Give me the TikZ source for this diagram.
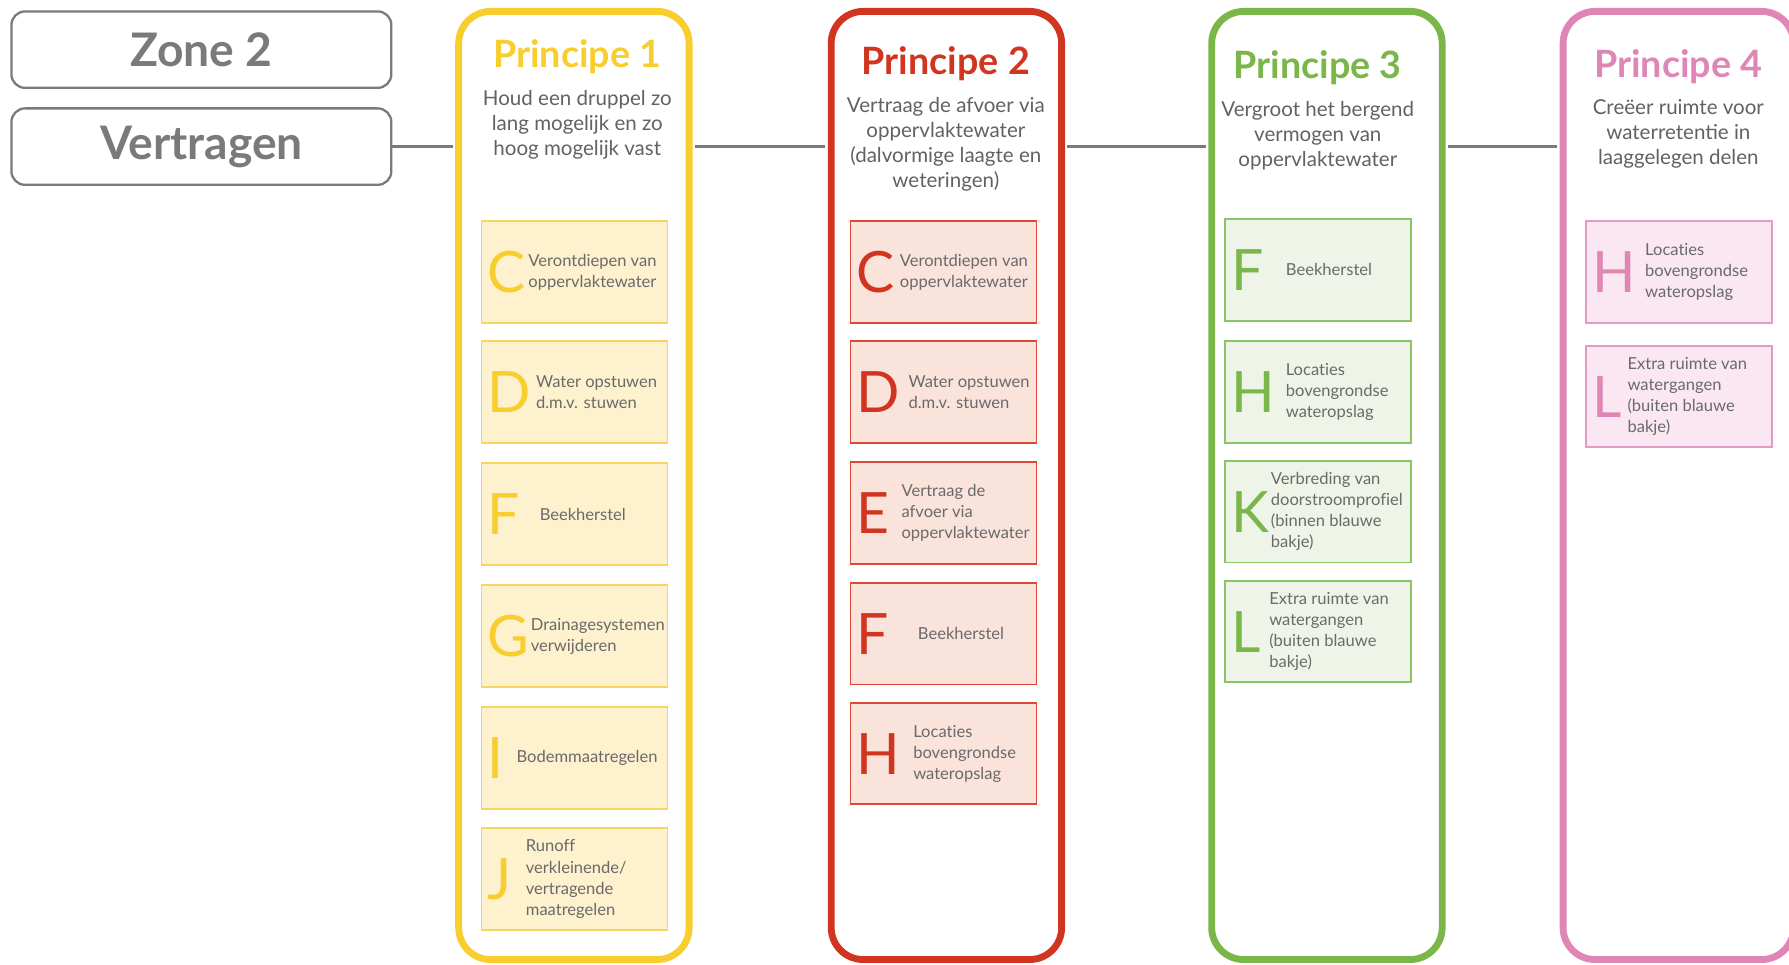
\documentclass[tikz,border=0pt]{standalone}
\usepackage{fontspec}
\setmainfont{Lato}
\newfontfamily\maatfont[Ligatures=NoCommon]{Lato}
\usetikzlibrary{positioning}
\definecolor{zgray}{HTML}{7A7A7A}
\definecolor{subgray}{HTML}{626262}
\definecolor{itemgray}{HTML}{6A6A6A}
\definecolor{yellowdark}{HTML}{F8CD2E}
\definecolor{yellowline}{HTML}{F7D560}
\definecolor{yellowfill}{HTML}{FEF1CD}
\definecolor{reddark}{HTML}{D2351F}
\definecolor{redline}{HTML}{DB4A35}
\definecolor{redfill}{HTML}{FAE3DB}
\definecolor{greendark}{HTML}{7AB648}
\definecolor{greenline}{HTML}{8DC266}
\definecolor{greenfill}{HTML}{EEF5E8}
\definecolor{pinkdark}{HTML}{DF86B6}
\definecolor{pinkline}{HTML}{E39AC4}
\definecolor{pinkfill}{HTML}{FAE7F1}
\tikzset{
  zonebox/.style={draw=zgray, line width=2pt, rounded corners=12pt, minimum width=333pt, minimum height=67pt, text=zgray, font=\fontsize{40.5}{41}\selectfont\bfseries},
  column/.style={draw=#1dark, line width=6pt, rounded corners=28pt, minimum width=202pt, minimum height=831pt},
  conn/.style={draw=zgray, line width=2.5pt, shorten >=2pt},
  ptitle/.style={text=#1dark, inner sep=0pt, anchor=base, font=\fontsize{33}{34}\selectfont\bfseries},
  psub/.style={text=subgray, inner sep=0pt, align=center, font=\fontsize{18}{22}\selectfont},
  maat/.style={draw=#1line, fill=#1fill, line width=1.6pt, minimum width=163pt, minimum height=89pt},
  letter/.style={text=#1dark, inner sep=0pt, text height=36pt, text depth=0pt, font=\fontsize{50}{50}\selectfont},
  maattext/.style={text=itemgray, inner sep=0pt, align=left, font=\maatfont\fontsize{14.5}{18.5}\selectfont}
}
\begin{document}
\begin{tikzpicture}[x=1pt, y=-1pt]
\useasboundingbox[fill=white] (0,0) rectangle (1568,845);
\node[zonebox] (zone) at (176.5,43.5) {Zone 2};
\node[zonebox] (vertr) at (176.5,128.5) {Vertragen};

\node[column=yellow] (p1) at (503,425.5) {};
\node[column=red] (p2) at (829.5,425.5) {};
\node[column=green] (p3) at (1163,425.5) {};
\node[column=pink] (p4) at (1471,425.5) {};

\draw[conn] (vertr.east) -- (vertr.east -| p1.west);
\foreach \a/\b in {p1/p2,p2/p3,p3/p4}
  \draw[conn, shorten <=2pt] (\a.east |- vertr.east) -- (\b.west |- vertr.east);

\node[ptitle=yellow] (t1) at (506,59) {Principe 1};
\node[psub, below=14pt of t1] (s1) {Houd een druppel zo\\lang mogelijk en zo\\hoog mogelijk vast};
\node[ptitle=red] (t2) at (829,65) {Principe 2};
\node[psub, below=14pt of t2] (s2) {Vertraag de afvoer via\\oppervlaktewater\\(dalvormige laagte en\\weteringen)};
\node[ptitle=green] (t3) at (1155,69) {Principe 3};
\node[psub, below=14pt of t3] (s3) {Vergroot het bergend\\vermogen van\\oppervlaktewater};
\node[ptitle=pink] (t4) at (1471,68) {Principe 4};
\node[psub, below=13pt of t4] (s4) {Creëer ruimte voor\\waterretentie in\\laaggelegen delen};

\foreach \y/\l/\g/\t in {238.5/C/2pt/{Verontdiepen van\\oppervlaktewater}, 343.5/D/4pt/{Water opstuwen\\d.m.v. stuwen}, 450.5/F/17pt/{Beekherstel}, 557.5/G/1pt/{Drainagesystemen\\verwijderen}, 664.5/I/11pt/{Bodemmaatregelen}, 770.5/J/12pt/{Runoff\\verkleinende/\\vertragende\\maatregelen}}{
  \node[maat=yellow] (p1-\l) at (503.5,\y) {};
  \node[letter=yellow, right=6pt of p1-\l.west] (p1-\l-l) {\l};
  \node[maattext, right=\g of p1-\l-l] (p1-\l-t) {\t};
}
\foreach \y/\l/\g/\t in {238.5/C/4pt/{Verontdiepen van\\oppervlaktewater}, 343.5/D/7pt/{Water opstuwen\\d.m.v. stuwen}, 449.5/E/10pt/{Vertraag de\\afvoer via\\oppervlaktewater}, 555.5/F/25pt/{Beekherstel}, 660.5/H/11pt/{Locaties\\bovengrondse\\wateropslag}}{
  \node[maat=red] (p2-\l) at (827,\y) {};
  \node[letter=red, right=6pt of p2-\l.west] (p2-\l-l) {\l};
  \node[maattext, right=\g of p2-\l-l] (p2-\l-t) {\t};
}
\foreach \y/\l/\g/\t in {236.5/F/19pt/{Beekherstel}, 343.5/H/9pt/{Locaties\\bovengrondse\\wateropslag}, 448.5/K/1pt/{Verbreding van\\doorstroomprofiel\\(binnen blauwe\\bakje)}, 553.5/L/7pt/{Extra ruimte van\\watergangen\\(buiten blauwe\\bakje)}}{
  \node[maat=green] (p3-\l) at (1155.5,\y) {};
  \node[letter=green, right=6pt of p3-\l.west] (p3-\l-l) {\l};
  \node[maattext, right=\g of p3-\l-l] (p3-\l-t) {\t};
}
\foreach \y/\l/\g/\t in {238.5/H/8pt/{Locaties\\bovengrondse\\wateropslag}, 347.5/L/5pt/{Extra ruimte van\\watergangen\\(buiten blauwe\\bakje)}}{
  \node[maat=pink] (p4-\l) at (1471.5,\y) {};
  \node[letter=pink, right=6pt of p4-\l.west] (p4-\l-l) {\l};
  \node[maattext, right=\g of p4-\l-l] (p4-\l-t) {\t};
}
\end{tikzpicture}
\end{document}
